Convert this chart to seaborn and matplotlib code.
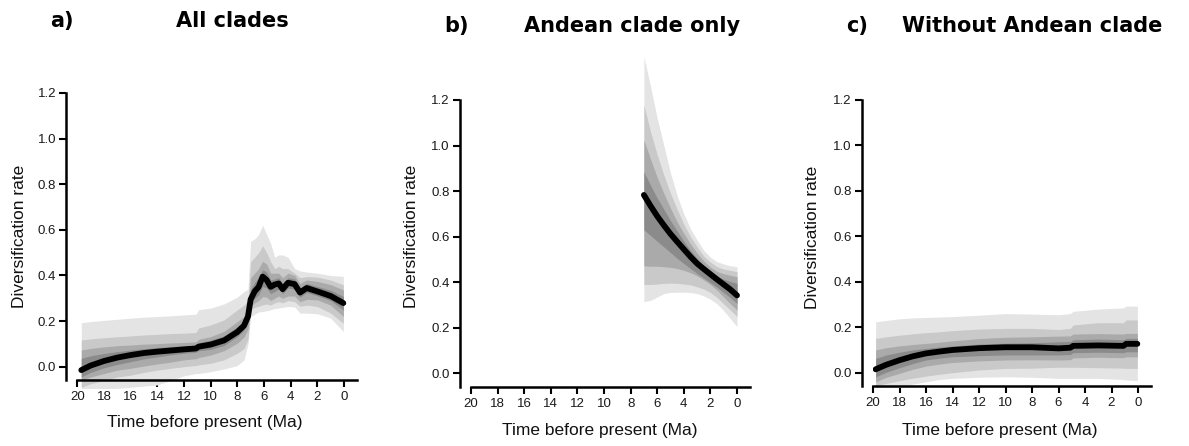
import numpy as np
import pandas as pd
import matplotlib
matplotlib.use("Agg")
import matplotlib.pyplot as plt
import seaborn as sns

# ---------------- data ----------------
# Panel a: All clades
time_a = [19.7, 19, 18, 17, 16, 15, 14, 13, 12, 11.1, 10.9, 10, 9, 8, 7.5, 7.2, 7.0,
          6.7, 6.4, 6.1, 5.8, 5.5, 5.2, 4.9, 4.6, 4.2, 3.7, 3.3, 2.8, 2.0, 1.0, 0.05]
median_a = [-0.015, 0.005, 0.025, 0.040, 0.051, 0.060, 0.066, 0.071, 0.076, 0.080, 0.088,
            0.097, 0.115, 0.152, 0.180, 0.220, 0.295, 0.330, 0.350, 0.395, 0.380, 0.350,
            0.360, 0.365, 0.340, 0.368, 0.362, 0.325, 0.345, 0.330, 0.310, 0.279]
hi95_a = [0.193, 0.198, 0.203, 0.208, 0.213, 0.217, 0.220, 0.223, 0.227, 0.230, 0.250,
          0.257, 0.275, 0.305, 0.330, 0.340, 0.550, 0.560, 0.580, 0.620, 0.580, 0.540,
          0.480, 0.490, 0.490, 0.480, 0.430, 0.420, 0.415, 0.410, 0.400, 0.396]
lo95_a = [-0.120, -0.110, -0.100, -0.095, -0.090, -0.085, -0.080, -0.060, -0.040, -0.030,
          -0.030, -0.022, -0.010, 0.005, 0.030, 0.100, 0.220, 0.230, 0.240, 0.242, 0.245,
          0.250, 0.255, 0.257, 0.260, 0.264, 0.262, 0.235, 0.235, 0.232, 0.213, 0.154]
hi80_a = [0.117, 0.122, 0.127, 0.131, 0.135, 0.139, 0.142, 0.145, 0.147, 0.150, 0.170,
          0.183, 0.205, 0.249, 0.270, 0.290, 0.460, 0.480, 0.500, 0.530, 0.500, 0.460,
          0.430, 0.440, 0.430, 0.430, 0.410, 0.390, 0.395, 0.393, 0.380, 0.359]
lo80_a = [-0.090, -0.075, -0.060, -0.045, -0.037, -0.025, -0.015, -0.007, 0.000, 0.005,
          0.008, 0.015, 0.030, 0.059, 0.080, 0.120, 0.250, 0.260, 0.265, 0.271, 0.275,
          0.270, 0.280, 0.285, 0.280, 0.290, 0.285, 0.265, 0.270, 0.264, 0.235, 0.190]
hi60_a = [0.073, 0.080, 0.087, 0.092, 0.095, 0.099, 0.101, 0.104, 0.106, 0.109, 0.120,
          0.132, 0.155, 0.198, 0.220, 0.260, 0.390, 0.410, 0.430, 0.462, 0.450, 0.410,
          0.410, 0.410, 0.390, 0.410, 0.400, 0.365, 0.380, 0.374, 0.360, 0.337]
lo60_a = [-0.060, -0.045, -0.030, -0.015, -0.007, 0.003, 0.012, 0.020, 0.030, 0.035,
          0.040, 0.051, 0.070, 0.103, 0.130, 0.165, 0.265, 0.280, 0.290, 0.308, 0.305,
          0.290, 0.300, 0.310, 0.300, 0.310, 0.310, 0.285, 0.295, 0.293, 0.270, 0.220]
hi40_a = [0.037, 0.048, 0.058, 0.066, 0.073, 0.079, 0.084, 0.088, 0.091, 0.094, 0.105,
          0.117, 0.135, 0.176, 0.200, 0.245, 0.340, 0.370, 0.390, 0.425, 0.415, 0.380,
          0.385, 0.390, 0.365, 0.390, 0.385, 0.345, 0.365, 0.352, 0.335, 0.308]
lo40_a = [-0.045, -0.025, -0.005, 0.010, 0.022, 0.034, 0.043, 0.052, 0.059, 0.064,
          0.070, 0.076, 0.093, 0.132, 0.160, 0.195, 0.275, 0.300, 0.315, 0.352, 0.345,
          0.320, 0.330, 0.340, 0.320, 0.345, 0.340, 0.305, 0.325, 0.311, 0.290, 0.249]

# Panel b: Andean clade only
time_b = [7.0, 6.5, 6.0, 5.5, 5.0, 4.5, 4.0, 3.5, 3.0, 2.5, 2.0, 1.5, 1.0, 0.5, 0.0]
median_b = [0.783, 0.735, 0.690, 0.650, 0.612, 0.578, 0.545, 0.512, 0.482, 0.458,
            0.435, 0.412, 0.390, 0.368, 0.342]
hi95_b = [1.390, 1.260, 1.120, 1.000, 0.880, 0.780, 0.700, 0.635, 0.585, 0.540,
          0.510, 0.490, 0.480, 0.472, 0.468]
lo95_b = [0.315, 0.320, 0.335, 0.350, 0.355, 0.356, 0.356, 0.355, 0.350, 0.340,
          0.325, 0.305, 0.275, 0.240, 0.205]
hi80_b = [1.178, 1.060, 0.960, 0.870, 0.790, 0.720, 0.655, 0.600, 0.555, 0.515,
          0.488, 0.468, 0.458, 0.452, 0.446]
lo80_b = [0.390, 0.390, 0.392, 0.395, 0.396, 0.395, 0.392, 0.388, 0.380, 0.370,
          0.355, 0.333, 0.305, 0.278, 0.249]
hi60_b = [1.024, 0.940, 0.860, 0.790, 0.725, 0.665, 0.615, 0.568, 0.528, 0.493,
          0.466, 0.447, 0.437, 0.430, 0.424]
lo60_b = [0.472, 0.470, 0.470, 0.468, 0.465, 0.460, 0.452, 0.442, 0.428, 0.410,
          0.390, 0.365, 0.335, 0.305, 0.278]
hi40_b = [0.885, 0.825, 0.770, 0.720, 0.670, 0.625, 0.580, 0.540, 0.505, 0.474,
          0.450, 0.428, 0.413, 0.403, 0.395]
lo40_b = [0.630, 0.605, 0.580, 0.555, 0.530, 0.505, 0.482, 0.460, 0.438, 0.418,
          0.398, 0.378, 0.355, 0.332, 0.307]

# Panel c: Without Andean clade
time_c = [19.8, 19, 18, 17, 16, 15, 14, 12, 10, 8, 6, 5.1, 4.9, 3, 1.1, 0.9, 0.05]
median_c = [0.015, 0.035, 0.055, 0.072, 0.085, 0.093, 0.100, 0.108, 0.112, 0.112,
            0.107, 0.110, 0.118, 0.120, 0.118, 0.127, 0.127]
hi95_c = [0.224, 0.230, 0.237, 0.241, 0.243, 0.245, 0.247, 0.253, 0.260, 0.258,
          0.255, 0.260, 0.270, 0.280, 0.285, 0.293, 0.293]
lo95_c = [-0.090, -0.080, -0.065, -0.050, -0.040, -0.030, -0.025, -0.020, -0.018, -0.020,
          -0.025, -0.025, -0.025, -0.025, -0.030, -0.032, -0.035]
hi80_c = [0.151, 0.158, 0.165, 0.171, 0.176, 0.180, 0.185, 0.192, 0.195, 0.195,
          0.190, 0.195, 0.210, 0.220, 0.220, 0.232, 0.232]
lo80_c = [-0.060, -0.047, -0.035, -0.024, -0.015, -0.007, 0.000, 0.012, 0.019, 0.020,
          0.024, 0.024, 0.024, 0.022, 0.020, 0.019, 0.019]
hi60_c = [0.100, 0.110, 0.118, 0.124, 0.129, 0.134, 0.140, 0.150, 0.156, 0.158,
          0.161, 0.162, 0.170, 0.172, 0.170, 0.173, 0.173]
lo60_c = [-0.040, -0.020, -0.003, 0.015, 0.029, 0.038, 0.045, 0.052, 0.056, 0.057,
          0.056, 0.057, 0.065, 0.068, 0.066, 0.070, 0.070]
hi40_c = [0.063, 0.078, 0.090, 0.100, 0.107, 0.113, 0.118, 0.126, 0.130, 0.132,
          0.136, 0.137, 0.145, 0.148, 0.145, 0.151, 0.151]
lo40_c = [-0.018, 0.002, 0.022, 0.040, 0.056, 0.064, 0.070, 0.075, 0.078, 0.078,
          0.078, 0.080, 0.088, 0.090, 0.088, 0.092, 0.092]

x_ticks = [20, 18, 16, 14, 12, 10, 8, 6, 4, 2, 0]
y_ticks = [0.0, 0.2, 0.4, 0.6, 0.8, 1.0, 1.2]
panel_letters = ["a)", "b)", "c)"]
panel_titles = ["All clades", "Andean clade only", "Without Andean clade"]
xlabel = "Time before present (Ma)"
ylabel = "Diversification rate"

# ---------------- style ----------------
sns.set_theme(style="ticks")
plt.rcParams["font.family"] = ["Liberation Sans", "DejaVu Sans"]

W, H, DPI = 1189, 446, 100
fig = plt.figure(figsize=(W / DPI, H / DPI), dpi=DPI)

band_colors = ["#e4e4e4", "#c9c9c9", "#aaaaaa", "#8b8b8b"]

panels = [
    dict(t=time_a, med=median_a,
         bands=[(lo95_a, hi95_a), (lo80_a, hi80_a), (lo60_a, hi60_a), (lo40_a, hi40_a)],
         x20=77.3, x0=344.0, y0=366.7, y12=93.0, ylo=-0.095, yhi=1.2,
         ylab=(20, 236), xlab=(205, 422), letter=(62, 21), title=(232, 21)),
    dict(t=time_b, med=median_b,
         bands=[(lo95_b, hi95_b), (lo80_b, hi80_b), (lo60_b, hi60_b), (lo40_b, hi40_b)],
         x20=471.0, x0=737.0, y0=373.3, y12=100.0, ylo=-0.06, yhi=1.4,
         ylab=(412, 236), xlab=(600, 430), letter=(456, 26), title=(632, 26)),
    dict(t=time_c, med=median_c,
         bands=[(lo95_c, hi95_c), (lo80_c, hi80_c), (lo60_c, hi60_c), (lo40_c, hi40_c)],
         x20=873.0, x0=1138.0, y0=372.7, y12=100.0, ylo=-0.063, yhi=1.2,
         ylab=(812, 237), xlab=(1000, 431), letter=(857, 26), title=(1032, 26)),
]

for i, p in enumerate(panels):
    sx = (p["x0"] - p["x20"]) / 20.0
    sy = (p["y0"] - p["y12"]) / 1.2
    xlo, xhi = 20.0, -0.98
    left_px = p["x20"]
    right_px = p["x0"] + 0.98 * sx
    top_px = p["y0"] - p["yhi"] * sy
    bot_px = p["y0"] - p["ylo"] * sy
    ax = fig.add_axes([left_px / W, 1 - bot_px / H, (right_px - left_px) / W,
                       (bot_px - top_px) / H])
    ax.set_xlim(xlo, xhi)
    ax.set_ylim(p["ylo"], p["yhi"])

    t = np.asarray(p["t"])
    for (lo, hi), col in zip(p["bands"], band_colors):
        ax.fill_between(t, lo, hi, color=col, lw=0, zorder=1)
    df = pd.DataFrame({"time": p["t"], "rate": p["med"]})
    sns.lineplot(data=df, x="time", y="rate", ax=ax, color="black", lw=4.2,
                 solid_capstyle="round", zorder=3, sort=False)

    ax.set_facecolor("none")
    for s in ["top", "right"]:
        ax.spines[s].set_visible(False)
    ax.spines["left"].set_position(("outward", 7.8))
    ax.spines["left"].set_bounds(-0.06, 1.2)
    ax.spines["bottom"].set_position(("data", -0.06))
    ax.spines["bottom"].set_bounds(20, -0.98)
    for s in ["left", "bottom"]:
        ax.spines[s].set_linewidth(1.8)
        ax.spines[s].set_color("black")

    ax.set_xticks(x_ticks)
    ax.set_xticklabels([str(v) for v in x_ticks])
    ax.set_yticks(y_ticks)
    ax.set_yticklabels([f"{v:.1f}" for v in y_ticks])
    ax.tick_params(axis="both", direction="out", length=5, width=1.5, color="black",
                   labelsize=9.5, labelcolor="#1a1a1a", pad=2.5)
    ax.tick_params(axis="x", pad=3)

    ax.set_xlabel(xlabel, fontsize=12.5, color="#111111")
    ax.set_ylabel(ylabel, fontsize=12.5, color="#111111")
    ax.xaxis.set_label_coords(p["xlab"][0] / W, 1 - p["xlab"][1] / H,
                              transform=fig.transFigure)
    ax.yaxis.set_label_coords(p["ylab"][0] / W, 1 - p["ylab"][1] / H,
                              transform=fig.transFigure)
    ax.xaxis.label.set_va("center")
    ax.yaxis.label.set_va("center")
    ax.grid(False)

    fig.text(p["letter"][0] / W, 1 - p["letter"][1] / H, panel_letters[i],
             ha="center", va="center", fontsize=15, fontweight="bold",
             family=["DejaVu Sans"], color="black")
    fig.text(p["title"][0] / W, 1 - p["title"][1] / H, panel_titles[i],
             ha="center", va="center", fontsize=15, fontweight="bold",
             family=["DejaVu Sans"], color="black")

fig.savefig("out.png", dpi=DPI)
